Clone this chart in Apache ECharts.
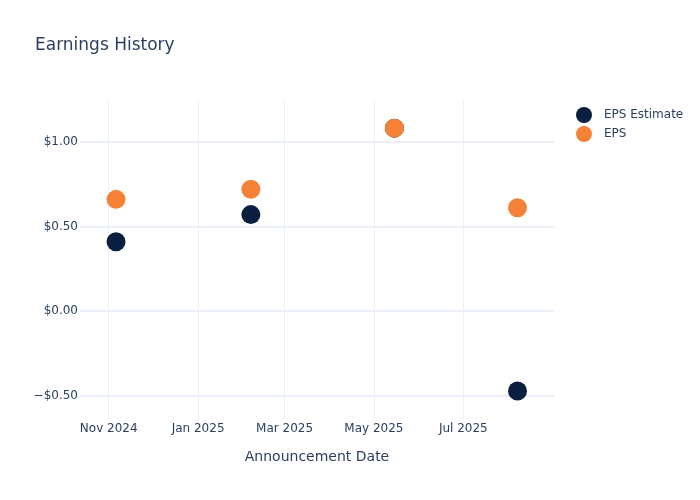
<!DOCTYPE html>
<html>
<head>
<meta charset="utf-8">
<script src="https://cdn.jsdelivr.net/npm/echarts@6/dist/echarts.min.js"></script>
<style>html,body{margin:0;padding:0;background:#fff}#chart{width:700px;height:500px}</style>
</head>
<body>
<div id="chart"></div>
<script>
const dates = ['2024-11-06', '2025-02-06', '2025-05-15', '2025-08-07'];
const epsEstimate = [0.41, 0.57, 1.08, -0.47];
const eps = [0.66, 0.72, 1.08, 0.61];
const xTicks = ['2024-11-01', '2025-01-01', '2025-03-01', '2025-05-01', '2025-07-01'];
const yTicks = [-0.5, 0, 0.5, 1.0];
const seriesNames = ['EPS Estimate', 'EPS'];
const monthNames = ['Jan','Feb','Mar','Apr','May','Jun','Jul','Aug','Sep','Oct','Nov','Dec'];

function parseLocal(s) {
  const p = s.split('-').map(Number);
  return new Date(p[0], p[1] - 1, p[2]).getTime();
}
const DAY = 86400000;
const xMin = parseLocal('2024-11-01') - 19.6 * DAY;
const xMax = parseLocal('2025-07-01') + 61.9 * DAY;

const font = 'DejaVu Sans, sans-serif';
const txt = '#2a3f5f';
const grid = '#EBF0F8';

const chart = echarts.init(document.getElementById('chart'), null, {renderer: 'canvas'});
chart.setOption({
  animation: false,
  backgroundColor: '#fff',
  title: {
    text: 'Earnings History',
    left: 30, top: 32,
    textStyle: {fontFamily: font, fontSize: 17, fontWeight: 'normal', color: txt}
  },
  legend: {
    orient: 'vertical',
    left: 571, top: 102,
    itemWidth: 16, itemHeight: 16, itemGap: 3,
    icon: 'circle',
    data: seriesNames,
    textStyle: {fontFamily: font, fontSize: 12, color: txt, padding: [0, 0, 0, 7]}
  },
  grid: {left: 80, right: 146, top: 100, bottom: 80, containLabel: false},
  xAxis: {
    type: 'value',
    min: xMin, max: xMax,
    name: 'Announcement Date',
    nameLocation: 'middle',
    nameGap: 30,
    nameTextStyle: {fontFamily: font, fontSize: 14, color: txt},
    axisLine: {show: false},
    axisTick: {show: false, customValues: xTicks.map(parseLocal)},
    axisLabel: {
      customValues: xTicks.map(parseLocal),
      margin: 3,
      fontFamily: font, fontSize: 12, color: txt,
      formatter: function (v) { const d = new Date(v); return monthNames[d.getMonth()] + ' ' + d.getFullYear(); }
    },
    splitLine: {show: true, lineStyle: {color: grid, width: 1}}
  },
  yAxis: {
    type: 'value',
    min: -0.6415, max: 1.246,
    axisLine: {show: false},
    axisTick: {show: false, customValues: yTicks},
    axisLabel: {
      customValues: yTicks,
      margin: 2,
      fontFamily: font, fontSize: 12, color: txt,
      formatter: function (v) { return (v < 0 ? '\u2212$' : '$') + Math.abs(v).toFixed(2); }
    },
    splitLine: {show: true, lineStyle: {color: grid, width: 2}}
  },
  series: [
    {
      name: seriesNames[0], type: 'scatter', symbolSize: 19,
      itemStyle: {color: '#0B1F40', opacity: 1},
      data: dates.map((d, i) => [parseLocal(d), epsEstimate[i]])
    },
    {
      name: seriesNames[1], type: 'scatter', symbolSize: 19,
      itemStyle: {color: '#F68237', opacity: 1},
      data: dates.map((d, i) => [parseLocal(d), eps[i]])
    }
  ]
});
</script>
</body>
</html>
